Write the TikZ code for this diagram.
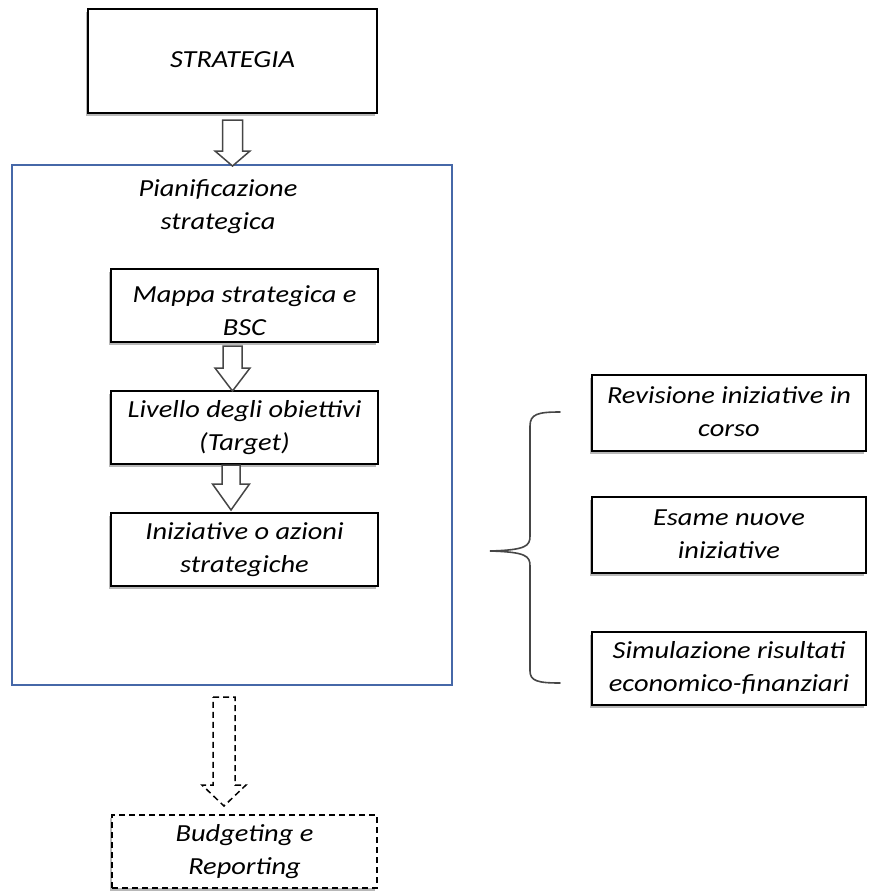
\documentclass[tikz,border=0pt]{standalone}
\usepackage{fontspec}
\setmainfont{Carlito}
\usepackage{graphicx}
\usetikzlibrary{shadows}

\definecolor{planblue}{RGB}{70,104,168}
\definecolor{arrowgray}{RGB}{70,70,70}

% text in the boxes is set a little wider than the font's natural width
\newcommand\boxtext[1]{\scalebox{1.16}[1]{\begin{tabular}{@{}c@{}}#1\end{tabular}}}

% hollow block arrow pointing down: centre x, top y, head y, tip y, shaft half width, head half width
\newcommand\blockarrow[7][]{%
  \draw[arrowline,#1] (#2-#6,#3) -- (#2+#6,#3) -- (#2+#6,#4) -- (#2+#7,#4)
    -- (#2,#5) -- (#2-#7,#4) -- (#2-#6,#4) -- cycle;}

\begin{document}
\begin{tikzpicture}[x=1pt,y=-1pt,
  every node/.style={font=\fontsize{24.5}{33}\selectfont\itshape, inner sep=0pt},
  stepbox/.style={draw=black, line width=1.8pt, fill=white, rectangle,
    drop shadow={shadow xshift=-2.5pt, shadow yshift=-3pt, fill=black, opacity=0.28}},
  longdash/.style={dash pattern=on 6pt off 4pt},
  arrowline/.style={draw=arrowgray, line width=1.5pt, fill=white, line join=miter},
  bracestyle/.style={draw=arrowgray, line width=1.6pt, line cap=round}]

\useasboundingbox (0,0) rectangle (878,892);

% planning frame
\node[draw=planblue, line width=1.4pt, minimum width=440pt, minimum height=520pt] (plan) at (232,425) {};
\node (plantitle) at (218,206) {\boxtext{Pianificazione\\strategica}};

% main boxes
\node[stepbox, minimum width=289pt, minimum height=104pt] (strat) at (232.5,61) {\boxtext{STRATEGIA}};
\node[stepbox, minimum width=267pt, minimum height=73pt] (mappa) at (244.5,305.5) {\raisebox{-7pt}[\height][\depth]{\boxtext{Mappa strategica e\\BSC}}};
\node[stepbox, minimum width=267pt, minimum height=73pt] (livello) at (244.5,427.5) {\boxtext{Livello degli obiettivi\\(Target)}};
\node[stepbox, minimum width=267pt, minimum height=73pt] (iniz) at (244.5,549.5) {\boxtext{Iniziative o azioni\\strategiche}};

% activities on the right
\node[stepbox, minimum width=274pt, minimum height=76pt] (rev) at (729,413) {\boxtext{Revisione iniziative in\\corso}};
\node[stepbox, minimum width=274pt, minimum height=76pt] (esame) at (729,535) {\boxtext{Esame nuove\\iniziative}};
\node[stepbox, minimum width=274pt, minimum height=73pt] (sim) at (729,668.5) {\boxtext{Simulazione risultati\\economico-finanziari}};

% budgeting (dashed)
\node[stepbox, longdash, minimum width=265pt, minimum height=73pt] (budget) at (244.5,851.5) {\boxtext{Budgeting e\\Reporting}};

% block arrows between the steps
\blockarrow{232.5}{120}{151}{166}{10}{17.5}
\blockarrow{232.5}{346}{368}{391}{9.5}{17.5}
\blockarrow{231}{465}{484}{510}{9}{18.5}
\blockarrow[longdash, draw=black]{224}{697}{785}{806}{11}{22}

% curly brace gathering the three activities
\coordinate (bracetop) at (560,412);
\coordinate (bracetip) at (490,551);
\coordinate (bracebot) at (560,683);
\draw[bracestyle] (bracetop) .. controls (538,412) and (530,414) .. (530,426)
  -- (530,536) .. controls (530,546) and (526,550) .. (bracetip)
  .. controls (526,552) and (530,556) .. (530,566)
  -- (530,671) .. controls (530,681) and (538,683) .. (bracebot);

\end{tikzpicture}
\end{document}
